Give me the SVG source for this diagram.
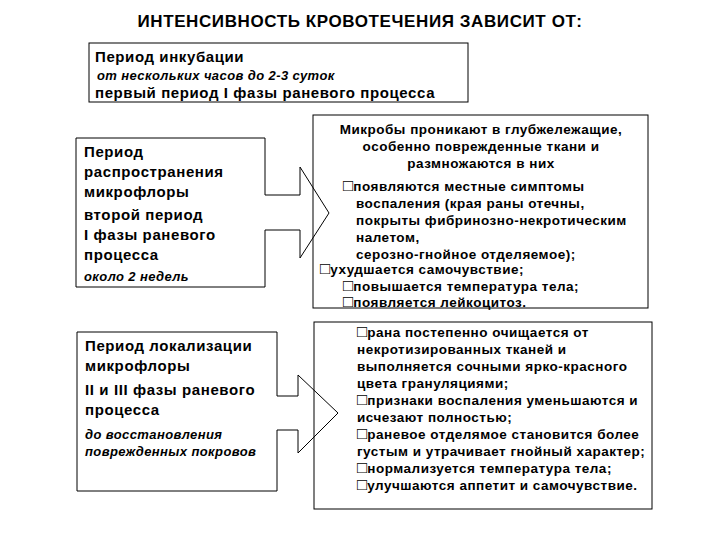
<svg xmlns="http://www.w3.org/2000/svg" width="720" height="540" viewBox="0 0 720 540">
<style>
text{font-family:"Liberation Sans",Arial,sans-serif;font-weight:bold;fill:#000}
.s{font-size:15px;letter-spacing:0.6px}
.r{font-size:13.5px;letter-spacing:0.5px}
.i{font-style:italic;font-size:13px;letter-spacing:0.4px}
.b{fill:#fff;stroke:#000;stroke-width:1}
.c{font-size:17px;font-weight:normal;letter-spacing:0}
</style>
<rect width="720" height="540" fill="#fff"/>
<text x="360" y="27" text-anchor="middle" font-size="17" letter-spacing="0.6">ИНТЕНСИВНОСТЬ КРОВОТЕЧЕНИЯ ЗАВИСИТ ОТ:</text>
<g id="incubation">
<rect class="b" x="89" y="43" width="379" height="59"/>
<text class="s" x="95" y="62">Период инкубации</text>
<text class="i" x="97" y="80">от нескольких часов до 2-3 суток</text>
<text class="s" x="95" y="98" font-size="16">первый период I фазы раневого процесса</text>
</g>
<g id="spread">
<path class="b" d="M76,138 H265 V195 H300 V167 L329,213 L300,258 V230 H265 V287 H76 Z"/>
<text class="s" x="84" y="157">Период</text>
<text class="s" x="84" y="177">распространения</text>
<text class="s" x="84" y="197">микрофлоры</text>
<text class="s" x="84" y="220">второй период</text>
<text class="s" x="84" y="240">I фазы раневого</text>
<text class="s" x="84" y="260">процесса</text>
<text class="i" x="84" y="281">около 2 недель</text>
</g>
<g id="localization">
<path class="b" d="M77,332 H277 V396 H298 V375 L338,413 L298,453 V430 H277 V491 H77 Z"/>
<text class="s" x="85" y="351">Период локализации</text>
<text class="s" x="85" y="371">микрофлоры</text>
<text class="s" x="85" y="395">II и III фазы раневого</text>
<text class="s" x="85" y="415">процесса</text>
<text class="i" x="85" y="439">до восстановления</text>
<text class="i" x="85" y="456">поврежденных покровов</text>
</g>
<g id="symptoms1">
<rect class="b" x="313" y="115" width="335" height="193" fill-opacity="0"/>
<text class="r" x="481" y="134" text-anchor="middle">Микробы проникают в глубжележащие,</text>
<text class="r" x="481" y="151" text-anchor="middle">особенно поврежденные ткани и</text>
<text class="r" x="481" y="168" text-anchor="middle">размножаются в них</text>
<text class="r" x="343" y="191"><tspan class="c">□</tspan>появляются местные симптомы</text>
<text class="r" x="356" y="208">воспаления (края раны отечны,</text>
<text class="r" x="356" y="225">покрыты фибринозно-некротическим</text>
<text class="r" x="356" y="242">налетом,</text>
<text class="r" x="356" y="259">серозно-гнойное отделяемое);</text>
<text class="r" x="320" y="274"><tspan class="c">□</tspan>ухудшается самочувствие;</text>
<text class="r" x="343" y="291"><tspan class="c">□</tspan>повышается температура тела;</text>
<text class="r" x="343" y="307"><tspan class="c">□</tspan>появляется лейкоцитоз.</text>
</g>
<g id="symptoms2">
<rect class="b" x="314" y="322" width="338" height="187" fill-opacity="0"/>
<text class="r" x="357" y="337"><tspan class="c">□</tspan>рана постепенно очищается от</text>
<text class="r" x="357" y="354">некротизированных тканей и</text>
<text class="r" x="357" y="371">выполняется сочными ярко-красного</text>
<text class="r" x="357" y="388">цвета грануляциями;</text>
<text class="r" x="357" y="405"><tspan class="c">□</tspan>признаки воспаления уменьшаются и</text>
<text class="r" x="357" y="422">исчезают полностью;</text>
<text class="r" x="357" y="439"><tspan class="c">□</tspan>раневое отделямое становится более</text>
<text class="r" x="357" y="456">густым и утрачивает гнойный характер;</text>
<text class="r" x="357" y="473"><tspan class="c">□</tspan>нормализуется температура тела;</text>
<text class="r" x="357" y="490"><tspan class="c">□</tspan>улучшаются аппетит и самочувствие.</text>
</g>
<g id="connectors"></g>
</svg>
